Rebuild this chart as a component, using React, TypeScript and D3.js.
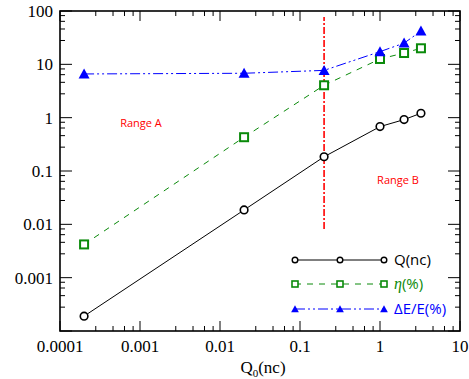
import React from "react";
import * as d3 from "d3";

const qX = [0.0002, 0.02, 0.2, 1, 2, 3.25];
const qY = [0.00019, 0.0186, 0.185, 0.68, 0.92, 1.21];
const etaY = [0.0042, 0.43, 4.05, 12.6, 16.3, 20];
const deY = [6.6, 6.8, 7.7, 17.3, 25, 42];
const rangeLineX = 0.2;
const rangeLineY = [0.0082, 77];
const xTickValues = [0.0001, 0.001, 0.01, 0.1, 1, 10];
const xTickLabels = ["0.0001", "0.001", "0.01", "0.1", "1", "10"];
const yTickValues = [0.001, 0.01, 0.1, 1, 10, 100];
const yTickLabels = ["0.001", "0.01", "0.1", "1", "10", "100"];
const legendLabels = ["Q(nc)", "\u03b7", "(%)", "\u0394E/E(%)"];
const rangeLabels = ["Range A", "Range B"];

const W = 469, H = 379;
const L = 60, R = 460, T = 11, B = 331;

export default function App() {
  const x = d3.scaleLog().domain([1e-4, 10]).range([L, R]);
  const y = d3.scaleLog().domain([1e-4, 100]).range([B, T]);

  const minorFactors = [2.8, 4.6, 6.4, 8.2];
  const xMinor: number[] = [];
  for (let d = 1e-4; d < 10 - 1e-9; d *= 10) minorFactors.forEach((f) => xMinor.push(d * f));
  const yMinor: number[] = [];
  for (let d = 1e-4; d < 100 - 1e-9; d *= 10) minorFactors.forEach((f) => yMinor.push(d * f));

  const line = (ys: number[]) =>
    d3.line<number>().x((_, i) => x(qX[i])).y((v) => y(v))(ys) as string;

  const green = "#0a8a0a";
  const blue = "#0000ff";
  const serif = "'Liberation Serif', 'Times New Roman', serif";
  const sans = "'Open Sans', 'Noto Sans', sans-serif";

  const tri = (cx: number, cy: number, s: number) =>
    `M${cx},${cy - s * 0.55}L${cx + s * 0.55},${cy + s * 0.45}L${cx - s * 0.55},${cy + s * 0.45}Z`;

  const legRows = [260, 284, 309];
  const legXs = [295, 340, 384];

  return (
    <svg width={W} height={H} style={{ position: "absolute", left: 0, top: 0 }}>
      <rect width={W} height={H} fill="#fff" />
      <g stroke="#000" strokeWidth={1}>
        {xTickValues.map((v, i) => (
          <g key={"xt" + i}>
            <line x1={x(v)} x2={x(v)} y1={B} y2={B - 10} />
            <line x1={x(v)} x2={x(v)} y1={T} y2={T + 10} />
          </g>
        ))}
        {xMinor.map((v, i) => (
          <g key={"xm" + i}>
            <line x1={x(v)} x2={x(v)} y1={B} y2={B - 5} />
            <line x1={x(v)} x2={x(v)} y1={T} y2={T + 5} />
          </g>
        ))}
        {[1e-4, ...yTickValues].map((v, i) => (
          <g key={"yt" + i}>
            <line x1={L} x2={L + 12} y1={y(v)} y2={y(v)} />
            <line x1={R} x2={R - 12} y1={y(v)} y2={y(v)} />
          </g>
        ))}
        {yMinor.map((v, i) => (
          <g key={"ym" + i}>
            <line x1={L} x2={L + 5} y1={y(v)} y2={y(v)} />
            <line x1={R} x2={R - 5} y1={y(v)} y2={y(v)} />
          </g>
        ))}
      </g>
      <rect x={L} y={T} width={R - L} height={B - T} fill="none" stroke="#000" strokeWidth={1.6} />
      <g fontFamily={serif} fontSize={17} fill="#000">
        {xTickValues.map((v, i) => (
          <text key={"xl" + i} x={x(v)} y={B + 21} textAnchor="middle">
            {xTickLabels[i]}
          </text>
        ))}
        {yTickValues.map((v, i) => (
          <text key={"yl" + i} x={53} y={y(v) + 6} textAnchor="end">
            {yTickLabels[i]}
          </text>
        ))}
        <text x={263} y={373} textAnchor="middle" fontSize={17}>
          Q<tspan fontSize={11} dy={4}>0</tspan>
          <tspan dy={-4}>(nc)</tspan>
        </text>
      </g>
      <line
        x1={x(rangeLineX)}
        x2={x(rangeLineX)}
        y1={y(rangeLineY[0])}
        y2={y(rangeLineY[1])}
        stroke="#ff0000"
        strokeWidth={1.6}
        strokeDasharray="7,2,2,2"
      />
      <text x={141} y={127} textAnchor="middle" fontFamily={sans} fontSize={11} fill="#ff0000">
        {rangeLabels[0]}
      </text>
      <text x={398} y={184} textAnchor="middle" fontFamily={sans} fontSize={11} fill="#ff0000">
        {rangeLabels[1]}
      </text>
      <path d={line(qY)} fill="none" stroke="#000" strokeWidth={1} />
      <path d={line(etaY)} fill="none" stroke={green} strokeWidth={1} strokeDasharray="6,6" />
      <path d={line(deY)} fill="none" stroke={blue} strokeWidth={1} strokeDasharray="10,3,2,3,2,3" />
      {qX.map((xv, i) => (
        <g key={"m" + i}>
          <circle cx={x(xv)} cy={y(qY[i])} r={3.8} fill="#fff" stroke="#000" strokeWidth={1.6} />
          <rect x={x(xv) - 4} y={y(etaY[i]) - 4} width={8} height={8} fill="#fff" stroke={green} strokeWidth={2} />
          <path d={tri(x(xv), y(deY[i]), 10)} fill={blue} />
        </g>
      ))}
      <line x1={legXs[0]} x2={legXs[2]} y1={legRows[0]} y2={legRows[0]} stroke="#000" strokeWidth={1} />
      <line x1={legXs[0]} x2={legXs[2]} y1={legRows[1]} y2={legRows[1]} stroke={green} strokeWidth={1} strokeDasharray="6,6" />
      <line x1={legXs[0]} x2={legXs[2]} y1={legRows[2]} y2={legRows[2]} stroke={blue} strokeWidth={1} strokeDasharray="10,3,2,3,2,3" />
      {legXs.map((lx, i) => (
        <g key={"lg" + i}>
          <circle cx={lx} cy={legRows[0]} r={2.8} fill="#fff" stroke="#000" strokeWidth={1.4} />
          <rect x={lx - 3} y={legRows[1] - 3} width={6} height={6} fill="#fff" stroke={green} strokeWidth={1.6} />
          <path d={tri(lx, legRows[2], 7)} fill={blue} />
        </g>
      ))}
      <g fontFamily={sans} fontSize={15}>
        <text x={394} y={legRows[0] + 5} fill="#000">{legendLabels[0]}</text>
        <text x={394} y={legRows[1] + 5} fill={green}>
          <tspan fontFamily={serif} fontStyle="italic" fontSize={16}>{legendLabels[1]}</tspan>
          {legendLabels[2]}
        </text>
        <text x={394} y={legRows[2] + 5} fill={blue}>{legendLabels[3]}</text>
      </g>
    </svg>
  );
}
